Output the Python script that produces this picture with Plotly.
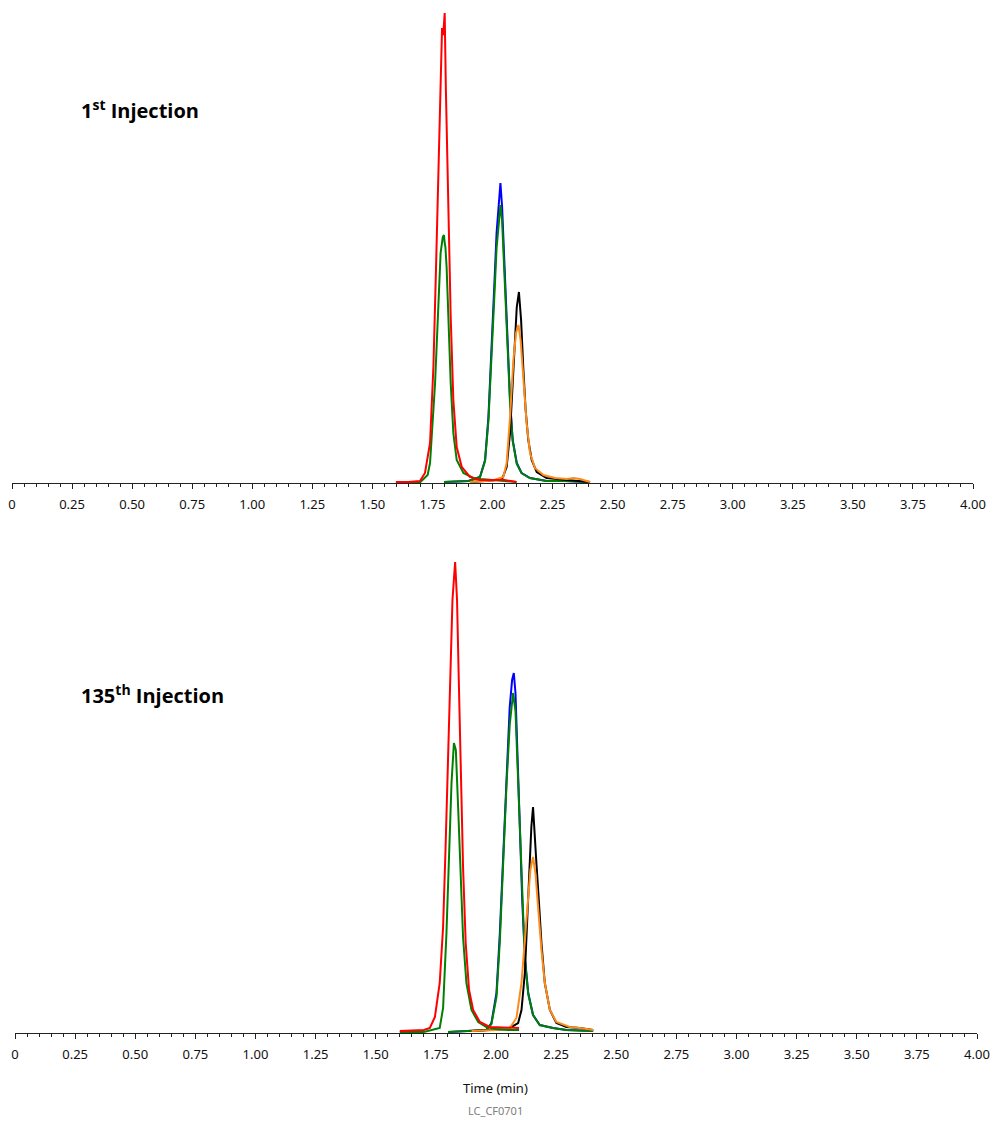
import plotly.graph_objects as go

# ---------------- data (time in min, response in arbitrary units) ----------------
# 1st injection
t1_red = [1.598, 1.650, 1.698, 1.719, 1.740, 1.754, 1.765, 1.775, 1.784, 1.790, 1.795, 1.801, 1.806, 1.816, 1.826, 1.837, 1.851, 1.872, 1.906, 1.948, 2.017, 2.050, 2.100]
i1_red = [1, 1, 2, 10, 40, 116, 216, 316, 400, 455, 448, 470, 393, 283, 166, 83, 36, 16, 6, 3, 3.5, 3, 1]

t1_greenA = [1.598, 1.700, 1.730, 1.740, 1.761, 1.775, 1.784, 1.793, 1.798, 1.801, 1.804, 1.809, 1.816, 1.826, 1.837, 1.851, 1.879, 1.920, 1.950, 2.000, 2.050, 2.100]
i1_greenA = [1, 1, 8, 20, 100, 190, 230, 246, 248, 240, 236, 216, 166, 100, 50, 23, 10, 5, 4, 3, 2, 1]

t1_blue = [1.798, 1.850, 1.900, 1.948, 1.969, 1.983, 1.997, 2.008, 2.017, 2.026, 2.033, 2.040, 2.048, 2.056, 2.063, 2.073, 2.084, 2.101, 2.121, 2.156, 2.225, 2.300, 2.406]
i1_blue = [1, 1.5, 2, 6, 23, 66, 133, 200, 250, 283, 300, 276, 230, 183, 133, 83, 43, 20, 10, 5, 2, 2, 1]

t1_greenB = [1.798, 1.850, 1.900, 1.948, 1.969, 1.983, 1.997, 2.008, 2.017, 2.026, 2.033, 2.040, 2.048, 2.056, 2.063, 2.073, 2.084, 2.101, 2.121, 2.156, 2.225, 2.300, 2.406]
i1_greenB = [1, 1.5, 2, 6, 22, 62, 125, 188, 235, 265, 278, 262, 220, 175, 128, 80, 42, 19, 10, 5, 2, 2, 1]

t1_black = [1.906, 1.950, 2.000, 2.040, 2.059, 2.073, 2.084, 2.094, 2.101, 2.110, 2.119, 2.128, 2.138, 2.149, 2.163, 2.184, 2.225, 2.309, 2.406]
i1_black = [1, 1.5, 2.5, 4, 16, 50, 100, 140, 176, 191, 163, 116, 73, 43, 23, 11, 5, 3, 1]

t1_orange = [1.906, 1.950, 2.000, 2.045, 2.059, 2.073, 2.087, 2.098, 2.108, 2.117, 2.128, 2.142, 2.156, 2.177, 2.212, 2.260, 2.309, 2.337, 2.364, 2.406]
i1_orange = [1, 1.5, 2.5, 6, 20, 66, 123, 150, 158, 143, 106, 60, 30, 15, 8, 5, 4, 5, 4, 1]

# 135th injection
t2_red = [1.600, 1.650, 1.700, 1.725, 1.746, 1.766, 1.780, 1.790, 1.801, 1.811, 1.819, 1.830, 1.838, 1.845, 1.854, 1.863, 1.874, 1.888, 1.905, 1.933, 1.974, 2.044, 2.096]
i2_red = [2, 2.5, 3, 5, 16, 50, 106, 183, 283, 383, 433, 471, 433, 356, 266, 166, 90, 43, 23, 11, 6, 5, 5]

t2_greenA = [1.600, 1.700, 1.766, 1.780, 1.794, 1.805, 1.815, 1.825, 1.833, 1.843, 1.854, 1.863, 1.877, 1.898, 1.926, 1.960, 2.000, 2.050, 2.096]
i2_greenA = [1, 1, 5, 25, 100, 183, 250, 290, 283, 223, 150, 96, 50, 23, 11, 6, 4, 3, 3]

t2_blue = [1.801, 1.850, 1.900, 1.960, 1.981, 2.002, 2.016, 2.030, 2.044, 2.057, 2.067, 2.074, 2.081, 2.089, 2.099, 2.109, 2.120, 2.134, 2.154, 2.182, 2.237, 2.293, 2.404]
i2_blue = [1, 1.5, 2, 3, 10, 40, 100, 183, 266, 326, 353, 360, 340, 283, 200, 133, 76, 40, 18, 8, 5, 3, 2]

t2_greenB = [1.801, 1.850, 1.900, 1.960, 1.981, 2.002, 2.016, 2.030, 2.044, 2.057, 2.067, 2.071, 2.081, 2.089, 2.099, 2.109, 2.120, 2.134, 2.154, 2.182, 2.237, 2.293, 2.404]
i2_greenB = [1, 1.5, 2, 3, 9, 36, 92, 172, 250, 308, 334, 340, 322, 272, 193, 128, 74, 39, 18, 8, 5, 3, 2]

t2_black = [1.898, 1.950, 2.000, 2.050, 2.092, 2.106, 2.120, 2.131, 2.140, 2.147, 2.154, 2.161, 2.168, 2.178, 2.189, 2.203, 2.224, 2.251, 2.293, 2.348, 2.404]
i2_black = [2, 2.5, 3, 4, 10, 23, 60, 116, 173, 206, 226, 203, 170, 133, 90, 50, 23, 10, 6, 5, 3]

t2_orange = [1.898, 1.950, 2.000, 2.057, 2.085, 2.106, 2.120, 2.134, 2.143, 2.154, 2.164, 2.175, 2.189, 2.203, 2.224, 2.251, 2.307, 2.348, 2.404]
i2_orange = [2, 2.5, 3, 5, 15, 50, 93, 136, 163, 176, 160, 126, 83, 50, 23, 11, 6, 5, 3]

tick_vals = [0, 0.25, 0.5, 0.75, 1.0, 1.25, 1.5, 1.75, 2.0, 2.25, 2.5, 2.75, 3.0, 3.25, 3.5, 3.75, 4.0]
tick_text = ["0", "0.25", "0.50", "0.75", "1.00", "1.25", "1.50", "1.75", "2.00", "2.25",
             "2.50", "2.75", "3.00", "3.25", "3.50", "3.75", "4.00"]

panel_labels = ["1<sup>st</sup> Injection", "135<sup>th</sup> Injection"]
x_title = "Time (min)"
footer = "LC_CF0701"

# ---------------- styling ----------------
RED, GREEN, BLUE, BLACK, ORANGE = "#ff0000", "#008000", "#0000ff", "#000000", "#ff8c1a"
LW = 2

W, H = 991, 1122   # page body margin is removed by the post script below

fig = go.Figure()

def add(t, v, color, xa, ya):
    fig.add_trace(go.Scatter(x=t, y=v, mode="lines", line=dict(color=color, width=LW),
                             xaxis=xa, yaxis=ya, showlegend=False, hoverinfo="skip"))

# top panel (order: under -> over)
for t, v, c in [(t1_blue, i1_blue, BLUE), (t1_greenB, i1_greenB, GREEN),
                (t1_black, i1_black, BLACK), (t1_orange, i1_orange, ORANGE),
                (t1_greenA, i1_greenA, GREEN), (t1_red, i1_red, RED)]:
    add(t, v, c, "x", "y")
# bottom panel
for t, v, c in [(t2_blue, i2_blue, BLUE), (t2_greenB, i2_greenB, GREEN),
                (t2_black, i2_black, BLACK), (t2_orange, i2_orange, ORANGE),
                (t2_greenA, i2_greenA, GREEN), (t2_red, i2_red, RED)]:
    add(t, v, c, "x2", "y2")

def px_(x):   # screen pixel x -> paper
    return x / W

def py_(y):   # screen pixel y (from top) -> paper
    return 1 - y / H

xcommon = dict(range=[0, 4], tickvals=tick_vals, ticktext=tick_text, showline=True,
               linecolor="#222222", linewidth=1, ticks="outside", ticklen=5, tickwidth=1,
               tickcolor="#222222", showgrid=False, zeroline=False, ticklabelstandoff=4,
               ticklabeloverflow="allow", automargin=False,
               tickfont=dict(family="Noto Sans", size=13, color="#111111"),
               minor=dict(dtick=0.05, tick0=0, ticks="outside", ticklen=3, tickwidth=1,
                          tickcolor="#222222", showgrid=False),
               fixedrange=True)

fig.update_layout(
    width=W, height=H, autosize=False,
    margin=dict(l=0, r=0, t=0, b=0, autoexpand=False),
    paper_bgcolor="white", plot_bgcolor="white",
    xaxis=dict(domain=[px_(12), px_(973)], anchor="y", **xcommon),
    yaxis=dict(domain=[py_(483), py_(13)], range=[0, 470], visible=False, fixedrange=True,
               automargin=False),
    xaxis2=dict(domain=[px_(15), px_(977)], anchor="y2", **xcommon),
    yaxis2=dict(domain=[py_(1033), py_(562)], range=[0, 471], visible=False, fixedrange=True,
                automargin=False),
    annotations=[
        dict(text=panel_labels[0], xref="paper", yref="paper", x=px_(79), y=py_(109),
             xanchor="left", yanchor="middle", showarrow=False,
             font=dict(family="Open Sans", size=20, color="black", weight="bold")),
        dict(text=panel_labels[1], xref="paper", yref="paper", x=px_(79), y=py_(694),
             xanchor="left", yanchor="middle", showarrow=False,
             font=dict(family="Open Sans", size=20, color="black", weight="bold")),
        dict(text=x_title, xref="paper", yref="paper", x=px_(495), y=py_(1088),
             xanchor="center", yanchor="middle", showarrow=False,
             font=dict(family="Noto Sans", size=13, color="#111111")),
        dict(text=footer, xref="paper", yref="paper", x=px_(495), y=py_(1110),
             xanchor="center", yanchor="middle", showarrow=False,
             font=dict(family="Noto Sans", size=11, color="#808080")),
    ],
)

post = (
    "document.documentElement.style.overflow='hidden';"
    "document.body.style.margin='0px';document.body.style.overflow='hidden';"
)

fig.write_html("out.html",
               config={"responsive": False, "displayModeBar": False, "staticPlot": True},
               post_script=post)
